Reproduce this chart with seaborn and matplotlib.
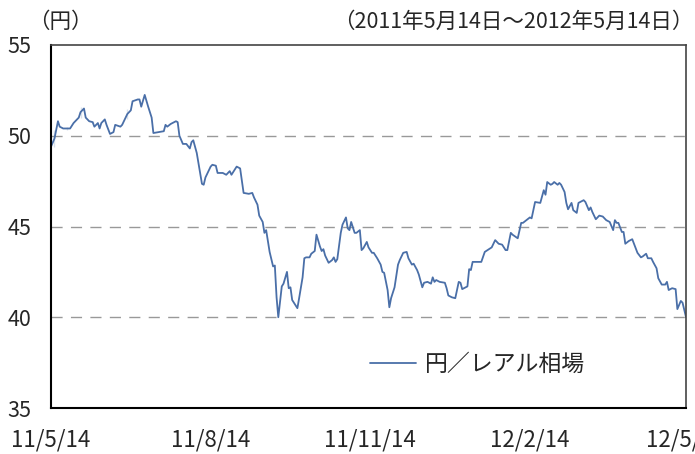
import pandas as pd
import seaborn as sns
import matplotlib.pyplot as plt

days = [0, 2, 2, 4, 5, 7, 9, 9, 11, 13, 16, 17, 17, 19, 20, 22, 24, 24, 25, 27, 28, 29, 31, 32, 34, 36, 37, 40, 41, 44,
        44, 46, 47, 50, 51, 52, 54, 56, 58, 59, 62, 65, 66, 67, 69, 72, 73, 74, 76, 78, 80, 81, 82, 84, 87, 88, 89, 92,
        93, 95, 96, 99, 101, 103, 104, 105, 107, 109, 111, 114, 116, 117, 119, 120, 122, 123, 124, 126, 128, 129, 130,
        131, 133, 134, 136, 137, 138, 139, 142, 143, 145, 146, 147, 149, 150, 152, 153, 155, 156, 157, 158, 160, 162,
        163, 164, 165, 167, 168, 170, 171, 172, 173, 175, 176, 178, 179, 180, 182, 183, 185, 186, 188, 190, 191, 192,
        194, 195, 196, 198, 200, 201, 203, 205, 206, 208, 209, 211, 212, 214, 215, 217, 219, 220, 221, 222, 224, 227,
        228, 229, 231, 233, 235, 236, 237, 240, 241, 242, 243, 248, 250, 254, 256, 258, 260, 262, 263, 265, 266, 269,
        271, 272, 274, 276, 277, 279, 282, 284, 285, 286, 288, 289, 290, 292, 293, 294, 296, 297, 298, 300, 301, 303,
        304, 307, 308, 310, 311, 312, 314, 316, 318, 320, 322, 324, 325, 326, 327, 329, 330, 331, 333, 335, 337, 338,
        340, 341, 343, 344, 346, 347, 349, 350, 352, 354, 355, 356, 358, 360, 361, 363, 364, 365, 366]
rate = [49.4, 49.4, 50.3, 50.8, 50.5, 50.4, 50.3, 50.5, 50.4, 50.7, 51.0, 51.6, 51.0, 51.5, 51.0, 50.8, 50.7, 50.8,
        50.5, 50.7, 50.4, 50.7, 50.9, 50.6, 50.1, 50.2, 50.6, 50.5, 50.6, 50.9, 51.5, 51.4, 51.9, 52.0, 52.0, 51.6,
        52.25, 51.6, 51.0, 50.15, 50.2, 50.25, 50.6, 50.5, 50.65, 50.8, 50.75, 50.0, 49.55, 49.55, 49.3, 49.65, 49.75,
        49.05, 47.35, 47.3, 47.7, 48.3, 48.4, 48.35, 47.95, 47.95, 47.85, 48.05, 47.85, 48.0, 48.3, 48.2, 46.85, 46.8,
        46.85, 46.6, 46.2, 45.6, 45.25, 44.65, 44.8, 43.6, 42.8, 42.85, 41.1, 40.0, 41.7, 41.85, 42.5, 41.6, 41.65,
        40.95, 40.5, 41.05, 42.2, 43.25, 43.3, 43.3, 43.5, 43.65, 44.55, 43.9, 43.65, 43.75, 43.4, 43.0, 43.15, 43.3,
        43.05, 43.2, 44.65, 45.1, 45.5, 44.9, 44.8, 45.25, 44.65, 44.65, 44.8, 43.7, 43.8, 44.15, 43.85, 43.55, 43.55,
        43.25, 42.9, 42.5, 42.45, 41.5, 40.55, 41.05, 41.65, 42.9, 43.15, 43.55, 43.6, 43.25, 42.9, 42.95, 42.6, 42.35,
        41.65, 41.9, 41.95, 41.85, 42.2, 41.95, 42.05, 41.95, 41.9, 41.6, 41.2, 41.1, 41.05, 41.95, 41.9, 41.55, 41.7,
        42.65, 42.6, 43.05, 43.05, 43.6, 43.85, 44.25, 44.05, 44.0, 43.7, 43.7, 44.65, 44.55, 44.35, 45.2, 45.2, 45.35,
        45.5, 45.45, 46.35, 46.3, 47.0, 46.75, 47.45, 47.3, 47.35, 47.45, 47.3, 47.4, 47.3, 46.9, 46.3, 45.95, 46.3,
        45.9, 45.75, 46.3, 46.45, 46.35, 45.9, 46.05, 45.8, 45.4, 45.6, 45.55, 45.35, 45.25, 44.8, 45.35, 45.2, 45.2,
        44.7, 44.7, 44.05, 44.2, 44.3, 43.8, 43.55, 43.3, 43.35, 43.5, 43.25, 43.25, 43.05, 42.7, 42.15, 41.8, 41.8,
        41.95, 41.5, 41.6, 41.55, 40.45, 40.9, 40.8, 40.4, 40.0]

tick_dates = ['2011-05-14', '2011-08-14', '2011-11-14', '2012-02-14', '2012-05-14']
tick_labels = ['11/5/14', '11/8/14', '11/11/14', '12/2/14', '12/5/14']
series_name = '円／レアル相場'

df = pd.DataFrame({'date': pd.Timestamp('2011-05-14') + pd.to_timedelta(days, unit='D'), 'rate': rate})

sns.set_theme(style='white')
plt.rcParams['font.family'] = ['Noto Sans CJK JP', 'DejaVu Sans']

fig = plt.figure(figsize=(6.95, 4.54), dpi=100)
ax = fig.add_axes([0.0734, 0.1013, 0.9137, 0.7996])

sns.lineplot(data=df, x='date', y='rate', ax=ax, color='#4a6fa8', linewidth=1.3, label=series_name)

ax.set_xlim(pd.Timestamp(tick_dates[0]), pd.Timestamp(tick_dates[-1]))
ax.set_ylim(35, 55)
ax.set_yticks([35, 40, 45, 50, 55])
ax.set_xticks(pd.to_datetime(tick_dates))
ax.set_xticklabels(tick_labels)
ax.set_xlabel('')
ax.set_ylabel('')

for y in [40, 45, 50]:
    ax.axhline(y, color='#999999', linewidth=1, linestyle=(0, (8, 6)), zorder=0)

ax.tick_params(axis='x', direction='in', length=7, width=1, color='#555555', pad=15, labelsize=16)
ax.tick_params(axis='y', length=0, pad=14, labelsize=15.5)
for side in ['left', 'bottom']:
    ax.spines[side].set_color('black')
    ax.spines[side].set_linewidth(1.5)
for side in ['top', 'right']:
    ax.spines[side].set_color('#444444')
    ax.spines[side].set_linewidth(1.2)

fig.text(0.04, 0.952, '（円）', fontsize=15.5, va='center', ha='left')
fig.text(0.998, 0.952, '（2011年5月14日～2012年5月14日）', fontsize=15.5, va='center', ha='right')

ax.legend(loc='center left', bbox_to_anchor=(0.47, 0.121), frameon=False, fontsize=16.5,
          handlelength=2.0, handletextpad=0.4)

fig.savefig('out.png', dpi=100)
